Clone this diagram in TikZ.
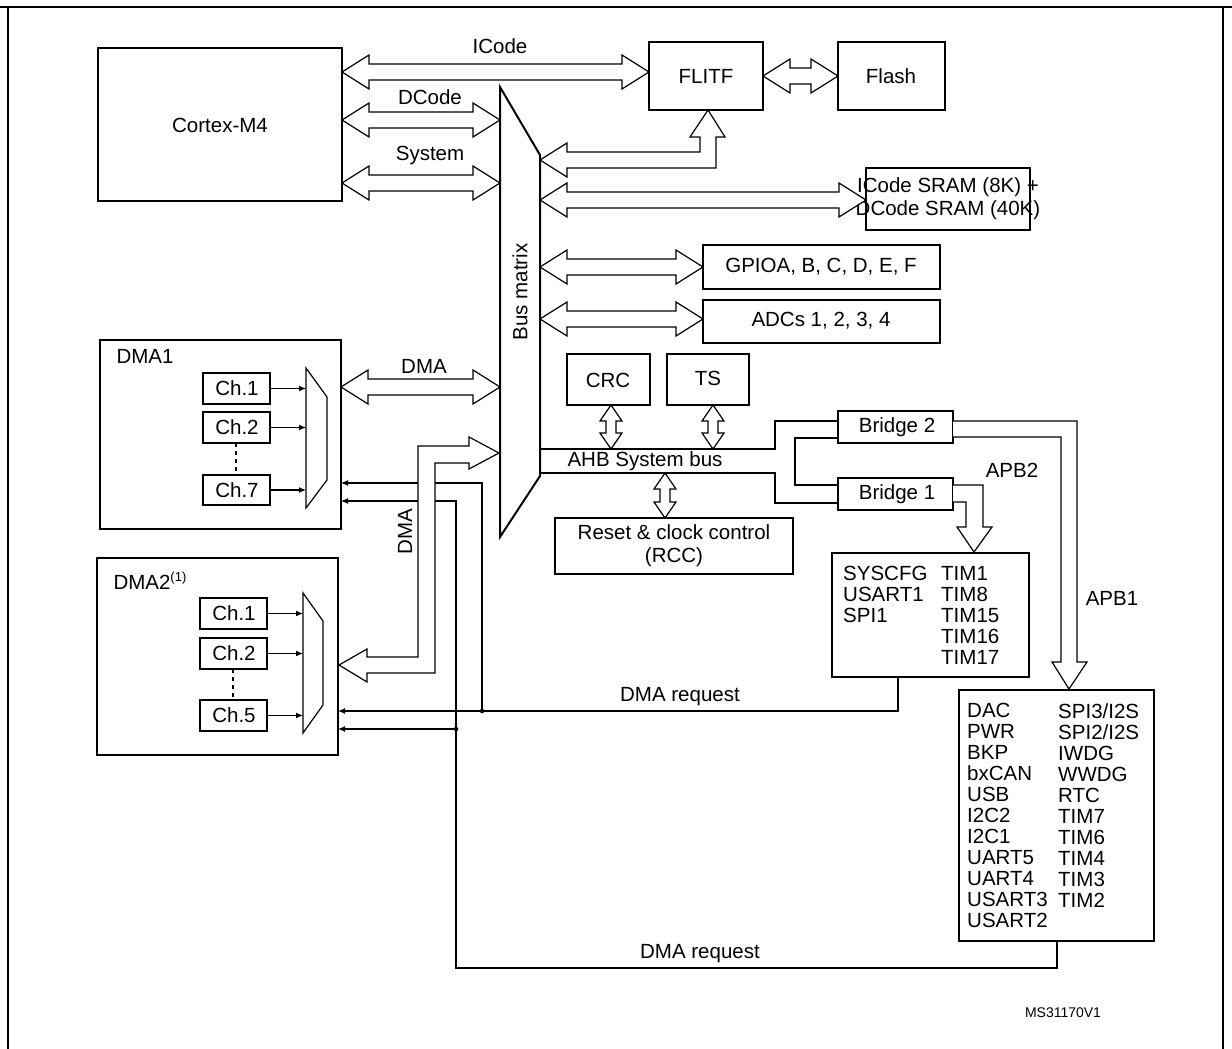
\documentclass[tikz,border=0pt]{standalone}
\usepackage{fontspec}
\setmainfont{Liberation Sans}
\usetikzlibrary{arrows.meta}
\begin{document}
\begin{tikzpicture}[x=1pt,y=-1pt,
  box/.style={draw,line width=2pt,fill=white,inner sep=0pt},
  ln/.style={line width=1.2pt},
  fat/.style={draw,line width=1.2pt,fill=white},
  req/.style={ln,-{Latex[length=7pt,width=6pt]}},
  lbl/.style={font=\fontsize{20.5}{21}\selectfont},
  dot/.style={circle,fill,inner sep=1.6pt}]
\newcommand{\hdbl}[3]{\draw[fat] (#1,#3) -- (#1+27,#3-17) -- (#1+27,#3-8) -- (#2-27,#3-8) -- (#2-27,#3-17) -- (#2,#3) -- (#2-27,#3+17) -- (#2-27,#3+8) -- (#1+27,#3+8) -- (#1+27,#3+17) -- cycle;}
\newcommand{\vdbl}[3]{\draw[fat] (#1,#2) -- (#1+11,#2+16) -- (#1+5,#2+16) -- (#1+5,#3-16) -- (#1+11,#3-16) -- (#1,#3) -- (#1-11,#3-16) -- (#1-5,#3-16) -- (#1-5,#2+16) -- (#1-11,#2+16) -- cycle;}
\useasboundingbox (0,0) rectangle (1232,1049);
\fill[white] (0,0) rectangle (1232,1049);
% frame
\draw[line width=2pt] (0,7) -- (1232,7);
\draw[line width=1.5pt] (8,7) -- (8,1049);
\draw[line width=1.5pt] (1223,7) -- (1223,1049);

% boxes
\draw[box] (98,48) rectangle (342,201);
\node[lbl] (cm4) at (220,125) {Cortex-M4};
\draw[box] (649,42) rectangle (763,110);
\node[lbl] (flitf) at (706,76) {FLITF};
\draw[box] (838,42) rectangle (945,110);
\node[lbl] (flash) at (891,76) {Flash};
\draw[box] (866,168) rectangle (1030,230);
\node[lbl,align=center] (sram) at (948,199) {ICode SRAM (8K) +\\[2pt]DCode SRAM (40K)};
\draw[box] (703,245) rectangle (940,289);
\node[lbl] (gpio) at (821,267) {GPIOA, B, C, D, E, F};
\draw[box] (703,300) rectangle (940,343);
\node[lbl] (adc) at (821,321) {ADCs 1, 2, 3, 4};
\draw[box] (567,354) rectangle (650,405);
\node[lbl] (crc) at (608,380) {CRC};
\draw[box] (667,354) rectangle (749,405);
\node[lbl] (ts) at (708,378) {TS};
\draw[box] (555,518) rectangle (793,574);
\node[lbl,align=center] (rcc) at (674,546) {Reset \& clock control\\[2pt](RCC)};

% bus matrix
\draw[line width=2pt,fill=white] (500,87) -- (540,155) -- (540,476) -- (500,537) -- cycle;
\node[lbl,rotate=90] (bm) at (520,292) {Bus matrix};

% bus arrows
\hdbl{342}{649}{72}
\hdbl{763}{838}{76}
\node[lbl] (ic) at (500,46) {ICode};
\hdbl{342}{500}{120}
\node[lbl] (dc) at (430,97) {DCode};
\hdbl{342}{500}{183}
\node[lbl] (sy) at (430,155) {System};
\hdbl{540}{866}{200}
\hdbl{540}{703}{267}
\hdbl{540}{703}{319}
\draw[fat] (540,160) -- (567,143) -- (567,152) -- (700,152) -- (700,137) -- (690,137) -- (708,110) -- (725,137) -- (716,137) -- (716,168) -- (567,168) -- (567,177) -- cycle;

% AHB
\draw[ln] (540,449) -- (775,449) -- (775,421) -- (838,421);
\draw[ln] (540,473) -- (775,473) -- (775,503) -- (838,503);
\draw[ln] (838,438) -- (795,438) -- (795,485) -- (838,485);
\node[lbl] (ahb) at (645,461) {AHB System bus};
\vdbl{611}{405}{449}
\vdbl{713}{405}{449}
\vdbl{665}{473}{518}
\draw[box] (838,411) rectangle (953,443);
\node[lbl] (br2) at (897,427) {Bridge 2};
\draw[box] (838,478) rectangle (953,510);
\node[lbl] (br1) at (897,494) {Bridge 1};

% APB2 / APB1
\draw[fat] (953,485) -- (983,485) -- (983,527) -- (992,527) -- (974,552) -- (957,527) -- (966,527) -- (966,502) -- (953,502);
\node[lbl] (apb2) at (1012,470) {APB2};
\draw[fat] (953,421) -- (1077,421) -- (1077,662) -- (1087,662) -- (1069,689) -- (1052,662) -- (1061,662) -- (1061,437) -- (953,437);
\node[lbl] (apb1) at (1112,598) {APB1};
\draw[box] (832,553) rectangle (1029,677);
\node[lbl,align=left,anchor=north west,inner sep=0pt] (apb2l) at (843,566) {SYSCFG\\USART1\\SPI1};
\node[lbl,align=left,anchor=north west,inner sep=0pt] (apb2r) at (941,566) {TIM1\\TIM8\\TIM15\\TIM16\\TIM17};
\draw[box] (959,690) rectangle (1154,941);
\node[lbl,align=left,anchor=north west,inner sep=0pt] (apb1l) at (967,703) {DAC\\PWR\\BKP\\bxCAN\\USB\\I2C2\\I2C1\\UART5\\UART4\\USART3\\USART2};
\node[lbl,align=left,anchor=north west,inner sep=0pt] (apb1r) at (1058,703) {SPI3/I2S\\SPI2/I2S\\IWDG\\WWDG\\RTC\\TIM7\\TIM6\\TIM4\\TIM3\\TIM2};

% DMA1
\draw[box] (100,340) rectangle (341,529);
\node[lbl,anchor=west] (dma1) at (113,356) {DMA1};
\draw[line width=1.2pt] (306,368) -- (327,397) -- (327,480) -- (306,508) -- cycle;
\foreach \n/\t/\b/\c in {a/373/404/1,b/412/443/2,c/475/505/7}{
  \draw[box] (203,\t) rectangle (270,\b);
  \node[lbl] (d1\n) at (237,{(\t+\b)/2}) {Ch.\c};
  \draw[req] (270,{(\t+\b)/2}) -- (306,{(\t+\b)/2});}
\draw[line width=1.5pt,dash pattern=on 4pt off 4pt] (236,443) -- (236,475);
% DMA2
\draw[box] (97,558) rectangle (338,755);
\node[lbl,anchor=west] (dma2) at (110,581) {DMA2\raisebox{8pt}{\fontsize{13}{14}\selectfont (1)}};
\draw[line width=1.2pt] (303,593) -- (323,621) -- (323,705) -- (303,733) -- cycle;
\foreach \n/\t/\b/\c in {a/598/629/1,b/638/669/2,c/700/731/5}{
  \draw[box] (200,\t) rectangle (267,\b);
  \node[lbl] (d2\n) at (234,{(\t+\b)/2}) {Ch.\c};
  \draw[req] (267,{(\t+\b)/2}) -- (303,{(\t+\b)/2});}
\draw[line width=1.5pt,dash pattern=on 4pt off 4pt] (233,669) -- (233,700);

\hdbl{341}{500}{387}
\node[lbl] (dmal) at (424,366) {DMA};

% DMA requests
\coordinate (r1) at (898,677);
\coordinate (r2) at (1057,941);
\draw[req] (r1) -- (898,711) -- (338,711);
\draw[req] (482,711) -- (482,483) -- (341,483);
\draw[req] (r2) -- (1057,968) -- (456,968) -- (456,501) -- (341,501);
\draw[req] (456,729) -- (338,729);
\node[dot] (j1) at (482,711) {};
\node[dot] (j2) at (456,729) {};
\node[lbl] (rq1) at (680,697) {DMA request};
\node[lbl] (rq2) at (700,954) {DMA request};

% big DMA arrow
\draw[fat] (499,453) -- (469,437) -- (469,446) -- (418,446) -- (418,657) -- (367,657) -- (367,649) -- (339,665) -- (367,682) -- (367,673) -- (435,673) -- (435,463) -- (469,463) -- (469,469) -- cycle;
\node[lbl,rotate=90] (dmav) at (405,532) {DMA};

\node[font=\fontsize{14}{15}\selectfont] (ms) at (1063,1013) {MS31170V1};
\end{tikzpicture}
\end{document}
